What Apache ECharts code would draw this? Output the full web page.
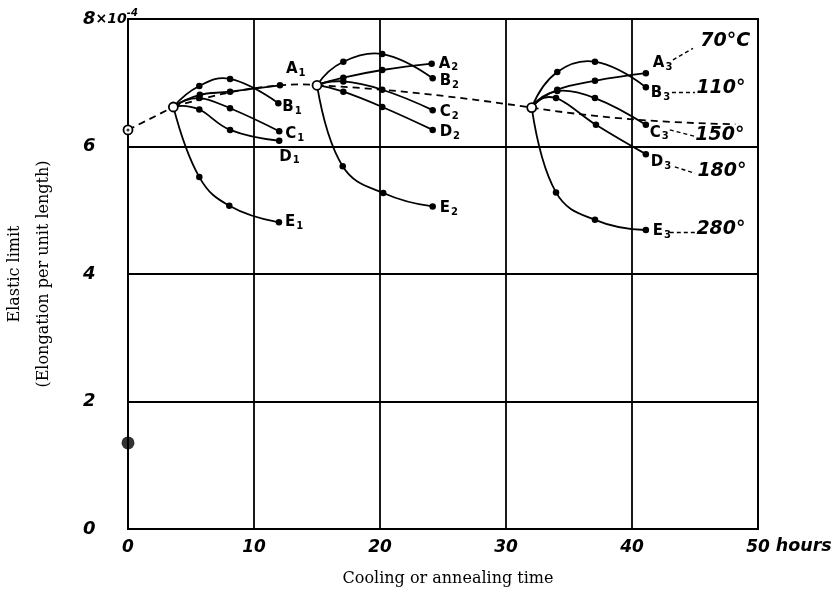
<!DOCTYPE html>
<html><head><meta charset="utf-8">
<script src="https://cdn.jsdelivr.net/npm/echarts@6/dist/echarts.min.js"></script>
<style>html,body{margin:0;padding:0;background:#fff}#c{width:833px;height:593px}</style>
</head><body><div id="c"></div>
<script>
// ---- data (x: hours, y: elastic limit ×10^-4) ----
const xTicks = [0, 10, 20, 30, 40, 50];
const yTicks = [0, 2, 4, 6, 8];
const junctions = [[0, 6.26], [3.6, 6.62], [15, 6.96], [32.04, 6.61]];
const mainDashed = [[0, 6.26], [3.6, 6.62], [8.1, 6.85], [12.06, 6.96], [15, 6.96], [20.2, 6.89], [25.6, 6.78], [32.04, 6.61], [39.8, 6.43], [48.2, 6.35]];
const singlePoint = [[0, 1.35]];

const A1 = [[3.6, 6.62], [5.7, 6.81], [8.1, 6.86], [12.06, 6.96]];
const B1 = [[3.6, 6.62], [5.66, 6.95], [8.1, 7.06], [11.93, 6.68]];
const C1 = [[3.6, 6.62], [5.66, 6.76], [8.1, 6.6], [12.0, 6.24]];
const D1 = [[3.6, 6.62], [5.66, 6.58], [8.1, 6.26], [12.0, 6.09]];
const E1 = [[3.6, 6.62], [5.66, 5.52], [8.04, 5.07], [11.98, 4.81]];

const A2 = [[15, 6.96], [17.09, 7.08], [20.18, 7.2], [24.1, 7.3]];
const B2 = [[15, 6.96], [17.09, 7.33], [20.18, 7.45], [24.18, 7.07]];
const C2 = [[15, 6.96], [17.09, 7.02], [20.18, 6.89], [24.18, 6.57]];
const D2 = [[15, 6.96], [17.09, 6.86], [20.18, 6.62], [24.18, 6.26]];
const E2 = [[15, 6.96], [17.04, 5.69], [20.26, 5.27], [24.18, 5.06]];

const A3 = [[32.04, 6.61], [34.07, 6.89], [37.06, 7.03], [41.1, 7.15]];
const B3 = [[32.04, 6.61], [34.07, 7.17], [37.06, 7.33], [41.1, 6.93]];
const C3 = [[32.04, 6.61], [34.07, 6.87], [37.06, 6.76], [41.1, 6.34]];
const D3 = [[32.04, 6.61], [33.97, 6.76], [37.14, 6.34], [41.1, 5.88]];
const E3 = [[32.04, 6.61], [33.97, 5.28], [37.06, 4.85], [41.1, 4.69]];

const tempText = ['70°C', '110°', '150°', '180°', '280°'];
const tempPos = [[47.4, 7.65], [47.06, 6.92], [46.98, 6.18], [47.14, 5.62], [47.06, 4.71]];
const leaders = [
  [[43.25, 7.36], [44.84, 7.54]],
  [[43.17, 6.85], [45.0, 6.85]],
  [[43.0, 6.26], [45.16, 6.15]],
  [[43.4, 5.68], [45.0, 5.58]],
  [[43.0, 4.66], [45.4, 4.66]]
];

// ---- styling / build ----
const curves = [
  ['A', '1', A1, [2, -16]], ['B', '1', B1, [0, 4]], ['C', '1', C1, [2, 3]], ['D', '1', D1, [-4, 16]], ['E', '1', E1, [2, 0]],
  ['A', '2', A2, [3, 0]], ['B', '2', B2, [3, 3]], ['C', '2', C2, [3, 2]], ['D', '2', D2, [3, 2]], ['E', '2', E2, [3, 2]],
  ['A', '3', A3, [3, -10]], ['B', '3', B3, [1, 6]], ['C', '3', C3, [0, 8]], ['D', '3', D3, [1, 8]], ['E', '3', E3, [3, 1]]
];
const handFont = 'DejaVu Sans';
const labelRich = {
  l: { fontFamily: handFont, fontSize: 15, color: '#000', fontWeight: 'bold' },
  s: { fontFamily: handFont, fontSize: 10, color: '#000', fontWeight: 'bold', padding: [8, 0, 0, 1] }
};

// split dashed guide line at junction points
const dashedSegments = [];
{
  let cur = [mainDashed[0]];
  for (let i = 1; i < mainDashed.length; i++) {
    cur.push(mainDashed[i]);
    const isJ = junctions.some(j => j[0] === mainDashed[i][0] && j[1] === mainDashed[i][1]);
    if (isJ && i < mainDashed.length - 1) { dashedSegments.push(cur); cur = [mainDashed[i]]; }
  }
  dashedSegments.push(cur);
}

// spline path through pixel points produced by the axis scales
function splinePath(px) {
  if (px.length === 2) return 'M' + px[0][0] + ' ' + px[0][1] + 'L' + px[1][0] + ' ' + px[1][1];
  const n = px.length, T = [];
  for (let i = 0; i < n; i++) {
    if (i === 0) T.push([(4 * px[1][0] - px[2][0] - 3 * px[0][0]) / 2, (4 * px[1][1] - px[2][1] - 3 * px[0][1]) / 2]);
    else if (i === n - 1) T.push([(3 * px[n - 1][0] - 4 * px[n - 2][0] + px[n - 3][0]) / 2, (3 * px[n - 1][1] - 4 * px[n - 2][1] + px[n - 3][1]) / 2]);
    else T.push([(px[i + 1][0] - px[i - 1][0]) / 2, (px[i + 1][1] - px[i - 1][1]) / 2]);
  }
  let d = 'M' + px[0][0] + ' ' + px[0][1];
  for (let i = 0; i < n - 1; i++) {
    const c1 = [px[i][0] + T[i][0] / 3, px[i][1] + T[i][1] / 3];
    const c2 = [px[i + 1][0] - T[i + 1][0] / 3, px[i + 1][1] - T[i + 1][1] / 3];
    d += 'C' + c1[0] + ' ' + c1[1] + ' ' + c2[0] + ' ' + c2[1] + ' ' + px[i + 1][0] + ' ' + px[i + 1][1];
  }
  return d;
}

const pathList = curves.map(c => ({ pts: c[2], dashed: false })).concat(dashedSegments.map(s => ({ pts: s, dashed: true })));

const series = [];
series.push({
  type: 'custom', coordinateSystem: 'cartesian2d', clip: false,
  data: pathList.map(p => p.pts[0]),
  renderItem: function (params, api) {
    const p = pathList[params.dataIndex];
    const px = p.pts.map(pt => api.coord(pt));
    return {
      type: 'path', shape: { pathData: splinePath(px) },
      style: { fill: 'none', stroke: '#000', lineWidth: 1.8, lineDash: p.dashed ? [7, 5] : null }
    };
  },
  z: 2
});
curves.forEach(([L, n, pts, off]) => {
  series.push({
    type: 'line', data: pts, symbol: 'circle', symbolSize: 6.5, showAllSymbol: true,
    itemStyle: { color: '#000' },
    lineStyle: { width: 0, opacity: 0 },
    endLabel: { show: true, formatter: '{l|' + L + '}{s|' + n + '}', rich: labelRich, offset: off, distance: 4 },
    z: 3
  });
});
series.push({
  type: 'scatter', data: junctions, symbol: 'circle', symbolSize: 9,
  itemStyle: { color: '#fff', borderColor: '#000', borderWidth: 1.8, opacity: 1 }, z: 5
});
series.push({
  type: 'scatter', data: [junctions[0]], symbol: 'circle', symbolSize: 3,
  itemStyle: { color: '#000' }, z: 6
});
series.push({
  type: 'scatter', data: singlePoint, symbol: 'circle', symbolSize: 13,
  itemStyle: { color: '#000' }, z: 6
});
series.push({
  type: 'lines', coordinateSystem: 'cartesian2d', polyline: false,
  data: leaders.map(c => ({ coords: c })),
  lineStyle: { color: '#000', width: 1.4, type: [4, 3], opacity: 1 }, z: 4
});
series.push({
  type: 'scatter', symbol: 'circle', symbolSize: 1,
  itemStyle: { color: '#fff', opacity: 1 },
  data: tempPos.map((p, i) => ({ value: p, name: tempText[i] })),
  label: { show: true, position: 'inside', formatter: '{b}', fontFamily: handFont, fontStyle: 'italic', fontWeight: 'bold', fontSize: 19, color: '#000', textBorderWidth: 0 },
  z: 6
});

const option = {
  animation: false,
  backgroundColor: '#fff',
  grid: { left: 128, right: 75, top: 19, bottom: 64, show: true, borderColor: '#000', borderWidth: 2, containLabel: false, outerBoundsMode: 'none' },
  title: [
    { text: 'Cooling or annealing time', left: 443, top: 566, textAlign: 'center',
      textStyle: { fontFamily: 'DejaVu Serif', fontWeight: 'normal', fontSize: 16, color: '#000' } }
  ],
  xAxis: {
    type: 'value', min: 0, max: 50, interval: 10,
    name: 'hours', nameLocation: 'end', nameGap: 11,
    nameTextStyle: { fontFamily: handFont, fontStyle: 'italic', fontWeight: 'bold', fontSize: 17.5, color: '#000', verticalAlign: 'top', padding: [8, 0, 0, 0] },
    axisLine: { show: true, lineStyle: { color: '#000', width: 2 } },
    axisTick: { show: false },
    splitLine: { show: true, lineStyle: { color: '#000', width: 1.8 } },
    axisLabel: { margin: 10, fontFamily: handFont, fontStyle: 'italic', fontWeight: 'bold', fontSize: 17, color: '#000',
      formatter: v => xTicks.includes(v) ? String(v) : '' }
  },
  yAxis: {
    type: 'value', min: 0, max: 8, interval: 2,
    name: 'Elastic limit\n(Elongation per unit length)', nameLocation: 'middle', nameGap: 70, nameRotate: 90,
    nameTextStyle: { fontFamily: 'DejaVu Serif', fontSize: 16, color: '#000', lineHeight: 29 },
    axisLine: { show: true, lineStyle: { color: '#000', width: 2 } },
    axisTick: { show: false },
    splitLine: { show: true, lineStyle: { color: '#000', width: 1.8 } },
    axisLabel: { margin: 45, align: 'left', color: '#000',
      formatter: v => v === 8 ? '{n|8}{x|×10}{p|-4}' : (yTicks.includes(v) ? '{n|' + v + '}' : ''),
      rich: {
        n: { fontFamily: handFont, fontStyle: 'italic', fontWeight: 'bold', fontSize: 18, color: '#000' },
        x: { fontFamily: handFont, fontStyle: 'italic', fontWeight: 'bold', fontSize: 14, color: '#000' },
        p: { fontFamily: handFont, fontStyle: 'italic', fontWeight: 'bold', fontSize: 10, color: '#000', padding: [0, 0, 12, 0] }
      } }
  },
  series: series
};
const chart = echarts.init(document.getElementById('c'), null, { renderer: 'canvas' });
chart.setOption(option);
</script>
</body></html>
